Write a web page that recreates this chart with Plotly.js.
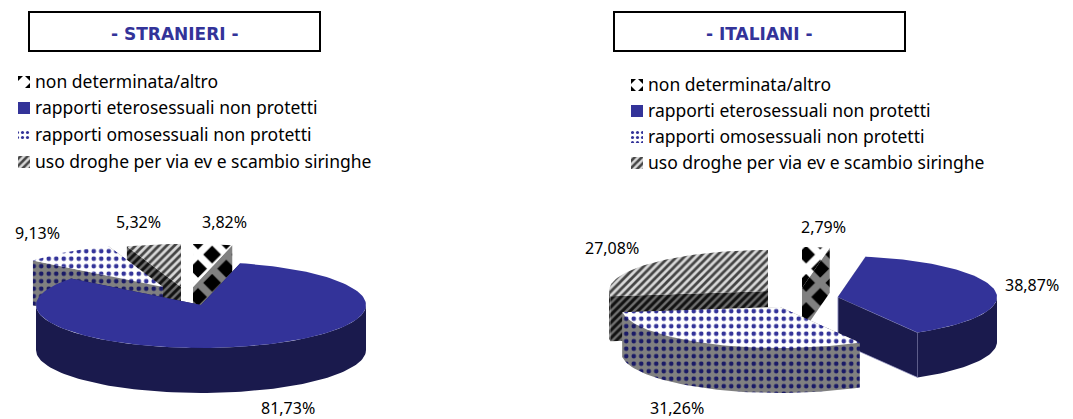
<!DOCTYPE html>
<html><head><meta charset="utf-8">
<script src="https://cdn.plot.ly/plotly-3.0.1.min.js"></script>
<style>html,body{margin:0;padding:0;background:#fff}#c{width:1073px;height:419px}</style>
</head><body><div id="c"></div>
<script>
const categories = ["non determinata/altro","rapporti eterosessuali non protetti","rapporti omosessuali non protetti","uso droghe per via ev e scambio siringhe"];
const stranieri = [3.82, 81.73, 9.13, 5.32];
const italiani = [2.79, 38.87, 31.26, 27.08];
const panelTitles = ["- STRANIERI -", "- ITALIANI -"];

const TEXT_FONT = "Noto Sans";
const BLUE="#333399", NAVY="#1a1a4d";
const styles = [
  {top:{shape:"x",fgcolor:"#ffffff",bgcolor:"#000000",size:20,solidity:0.6}, wall:{shape:"x",fgcolor:"#808080",bgcolor:"#000000",size:20,solidity:0.6}},
  {top:null, topColor:BLUE, wall:null, wallColor:NAVY},
  {top:{shape:".",fgcolor:BLUE,bgcolor:"#ffffff",size:7.5,solidity:0.3}, wall:{shape:".",fgcolor:"#1a1a66",bgcolor:"#808080",size:7.5,solidity:0.3}},
  {top:{shape:"/",fgcolor:"#444444",bgcolor:"#d8d8d8",size:5.5,solidity:0.5}, wall:{shape:"/",fgcolor:"#111111",bgcolor:"#707070",size:5.5,solidity:0.55}}
];
// geometry of each 3D pie: radii, thickness, slice centres (after explosion), drawing order
const pies = [
  {values:stranieri, rx:165, ry:43, depth:45, centers:[[193,287],[201,305],[163,287],[181,287]], order:[3,0,2,1],
   labels:[[224,222],[288,408],[37,233],[138,222]],
   box:[29,12,320,51], legendX:18, legendY:[82,108,135,162], corners:[[0,0],[1,0],[1,1]]},
  {values:italiani, rx:159, ry:41, depth:45, centers:[[802,288],[838,297],[780,307],[768,291]], order:[3,0,1,2],
   labels:[[823,227],[1032,285],[677,408],[612,248]],
   box:[614,12,905,51], legendX:631, legendY:[85,111,137,163], corners:[[0,0],[1,0],[1,1],[0,1]]}
];

function pt(c,p,a,dy){const r=a*Math.PI/180;return [c[0]+p.rx*Math.sin(r), c[1]-p.ry*Math.cos(r)+(dy||0)];}
function arc(c,p,a0,a1,dy){const n=Math.max(2,Math.ceil(Math.abs(a1-a0)/2)),o=[];for(let i=0;i<=n;i++)o.push(pt(c,p,a0+(a1-a0)*i/n,dy));return o;}
function poly(pts,color,pattern,line){
  const t={x:pts.map(q=>q[0]),y:pts.map(q=>q[1]),mode:"lines",fill:"toself",fillcolor:color||"#fff",
    line:line||{width:0},hoverinfo:"skip",showlegend:false,type:"scatter"};
  if(!line)t.line={width:0,color:color||"#fff"};
  if(pattern)t.fillpattern=pattern;
  return t;
}
const traces=[],annotations=[],shapes=[];
pies.forEach((p,pi)=>{
  let cum=0;
  const angles=p.values.map(v=>{const s=cum;cum+=v;return [s*3.6,cum*3.6];});
  p.order.forEach(i=>{
    const c=p.centers[i],[a0,a1]=angles[i],st=styles[i],D=p.depth;
    const edge=(pi===1&&i===1)?{width:0.7,color:"#a0a0cc"}:null;
    [a0,a1].forEach(a=>{
      const q=pt(c,p,a),b=[q[0],q[1]+D];
      traces.push(poly([c,q,b,[c[0],c[1]+D],c],st.wallColor,st.wall,edge));
    });
    const w0=Math.max(a0,90),w1=Math.min(a1,270);
    if(w1>w0){
      const up=arc(c,p,w0,w1,0),dn=arc(c,p,w1,w0,D);
      traces.push(poly(up.concat(dn,[up[0]]),st.wallColor,st.wall));
    }
    const top=[c].concat(arc(c,p,a0,a1,0),[c]);
    traces.push(poly(top,st.topColor,st.top));
    annotations.push({x:p.labels[i][0],y:p.labels[i][1],xref:"x",yref:"y",showarrow:false,xanchor:"center",yanchor:"middle",
      text:p.values[i].toFixed(2).replace(".",",")+"%",font:{family:TEXT_FONT,size:16,color:"#000"}});
  });
  categories.forEach((cat,i)=>{
    const st=styles[i],x=p.legendX,y=p.legendY[i],s=6;
    if(i===0){
      // white swatch with black corners
      p.corners.forEach(k=>{
        const cx=x+k[0]*12,cy=y-s+k[1]*12,dx=k[0]?-5:5,dy=k[1]?-5:5;
        traces.push(poly([[cx,cy],[cx+dx,cy],[cx,cy+dy],[cx,cy]],"#000000"));
      });
    } else {
      const sw=st.top?Object.assign({},st.top,{size:5}):null;
      traces.push(poly([[x,y-s],[x+12,y-s],[x+12,y+s],[x,y+s],[x,y-s]],st.topColor,sw));
    }
    annotations.push({x:x+15,y:y-1,xref:"x",yref:"y",showarrow:false,xanchor:"left",yanchor:"middle",text:cat,
      font:{family:TEXT_FONT,size:17.5,color:"#000"}});
  });
  const b=p.box;
  shapes.push({type:"rect",xref:"x",yref:"y",x0:b[0],y0:b[1],x1:b[2],y1:b[3],line:{color:"#000",width:2},fillcolor:"#fff",layer:"below"});
  annotations.push({x:(b[0]+b[2])/2,y:(b[1]+b[3])/2+2,xref:"x",yref:"y",showarrow:false,xanchor:"center",yanchor:"middle",
    text:"<b>"+panelTitles[pi]+"</b>",font:{family:"DejaVu Sans",size:17,color:BLUE}});
});
const axis={visible:false,fixedrange:true,showgrid:false,zeroline:false,autorange:false};
Plotly.newPlot("c",traces,{
  width:1073,height:419,margin:{l:0,r:0,t:0,b:0},paper_bgcolor:"#fff",plot_bgcolor:"#fff",showlegend:false,
  xaxis:Object.assign({},axis,{range:[0,1073]}),yaxis:Object.assign({},axis,{range:[419,0]}),
  annotations:annotations,shapes:shapes,hovermode:false
},{displayModeBar:false,staticPlot:true});
</script></body></html>
